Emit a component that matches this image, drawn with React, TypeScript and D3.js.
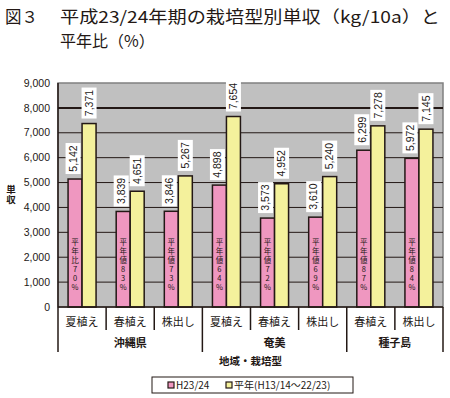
import { useEffect, useRef } from "react";
import * as d3 from "d3";

const categories = ["夏植え", "春植え", "株出し", "夏植え", "春植え", "株出し", "春植え", "株出し"];
const groups = [
  { name: "沖縄県", start: 0, end: 3 },
  { name: "奄美", start: 3, end: 6 },
  { name: "種子島", start: 6, end: 8 },
];
const current = [5142, 3839, 3846, 4898, 3573, 3610, 6299, 5972];
const normal = [7371, 4651, 5267, 7654, 4952, 5240, 7278, 7145];
const ratio = [70, 83, 73, 64, 72, 69, 87, 84];
const ratioLabel = ["平年比", "平年値", "平年値", "平年値", "平年値", "平年値", "平年値", "平年値"];
const yTicks = [0, 1000, 2000, 3000, 4000, 5000, 6000, 7000, 8000, 9000];
const seriesNames = ["H23/24", "平年(H13/14～22/23)"];

const PINK = "#ef97c0";
const YELLOW = "#f4f19c";
const DARK = "#231815";
const FONT = "'Noto Sans CJK JP', 'Noto Sans', Arial, sans-serif";
const NUMFONT = "'Liberation Sans', Arial, sans-serif";

export default function App() {
  const ref = useRef<SVGSVGElement>(null);

  useEffect(() => {
    const width = 450;
    const height = 398;
    const svg = d3.select(ref.current).attr("width", width).attr("height", height);
    svg.selectAll("*").remove();

    const left = 58, right = 443, top = 83, bottom = 307;

    const x = d3.scaleBand<number>()
      .domain(d3.range(categories.length))
      .range([left, right]);
    const y = d3.scaleLinear().domain([0, 9000]).range([bottom, top]);
    const barW = 14;

    // title
    svg.append("text").attr("x", 5).attr("y", 23)
      .attr("font-family", FONT).attr("font-size", 16.5).attr("fill", DARK)
      .text("図３");
    svg.append("text").attr("x", 60).attr("y", 23)
      .attr("font-family", FONT).attr("font-size", 16.5).attr("fill", DARK)
      .attr("textLength", 380).attr("lengthAdjust", "spacingAndGlyphs")
      .text("平成23/24年期の栽培型別単収（kg/10a）と");
    svg.append("text").attr("x", 60).attr("y", 47)
      .attr("font-family", FONT).attr("font-size", 16).attr("fill", DARK)
      .text("平年比（%）");

    // plot background
    svg.append("rect").attr("x", left).attr("y", top)
      .attr("width", right - left).attr("height", bottom - top)
      .attr("fill", "#c0c0c0").attr("stroke", "#808080").attr("stroke-width", 1.5);

    // grid
    svg.append("g").selectAll("line").data(yTicks.filter(d => d > 0 && d < 9000)).join("line")
      .attr("x1", left).attr("x2", right)
      .attr("y1", d => y(d)).attr("y2", d => y(d))
      .attr("stroke", DARK).attr("stroke-width", d => d === 8000 ? 2 : 1);

    // y tick labels
    svg.append("g").selectAll("text").data(yTicks).join("text")
      .attr("x", 50).attr("y", d => y(d)).attr("dy", "0.35em")
      .attr("text-anchor", "end").attr("font-family", NUMFONT).attr("font-size", 10.5)
      .attr("fill", DARK)
      .text(d => d3.format(",")(d));

    // y axis label (vertical)
    svg.append("text").attr("x", 11).attr("y", 185)
      .attr("font-family", FONT).attr("font-size", 9.5).attr("font-weight", "bold")
      .attr("fill", DARK)
      .style("writing-mode", "vertical-rl").style("text-orientation", "upright")
      .text("単収");

    const cx = (i: number) => (x(i) as number) + x.bandwidth() / 2;

    // bars
    const bars = svg.append("g");
    bars.selectAll("rect.cur").data(current).join("rect")
      .attr("class", "cur")
      .attr("x", (_, i) => cx(i) - barW).attr("width", barW)
      .attr("y", d => y(d)).attr("height", d => bottom - y(d))
      .attr("fill", PINK).attr("stroke", DARK).attr("stroke-width", 1.5);
    bars.selectAll("rect.nor").data(normal).join("rect")
      .attr("class", "nor")
      .attr("x", (_, i) => cx(i)).attr("width", barW)
      .attr("y", d => y(d)).attr("height", d => bottom - y(d))
      .attr("fill", YELLOW).attr("stroke", DARK).attr("stroke-width", 1.5);

    // axis lines
    svg.append("line").attr("x1", left).attr("x2", right).attr("y1", bottom).attr("y2", bottom)
      .attr("stroke", DARK).attr("stroke-width", 1.5);
    svg.append("line").attr("x1", left).attr("x2", left).attr("y1", top).attr("y2", 352)
      .attr("stroke", DARK).attr("stroke-width", 1.5);

    // value labels
    const addValueLabel = (value: number, bx: number) => {
      const g = svg.append("g")
        .attr("transform", `translate(${bx},${y(value) - 5}) rotate(-90)`);
      const str = d3.format(",")(value);
      g.append("rect").attr("x", 0).attr("y", -7.5).attr("width", 31).attr("height", 15)
        .attr("fill", "#fff");
      g.append("text").attr("x", 15.5).attr("y", 0).attr("dy", "0.35em")
        .attr("text-anchor", "middle").attr("font-family", NUMFONT).attr("font-size", 10.5)
        .attr("fill", DARK).text(str);
    };
    current.forEach((v, i) => addValueLabel(v, cx(i) - barW / 2 - 2));
    normal.forEach((v, i) => addValueLabel(v, cx(i) + barW / 2));

    // inner ratio text, written vertically
    ratio.forEach((r, i) => {
      svg.append("text").attr("x", cx(i) - barW / 2).attr("y", 238)
        .attr("font-family", FONT).attr("font-size", 7.5).attr("fill", DARK)
        .attr("letter-spacing", 1.6)
        .style("writing-mode", "vertical-rl").style("text-orientation", "upright")
        .text(`${ratioLabel[i]}${r}%`);
    });

    // category separators
    const groupEdges = new Set<number>();
    groups.forEach(g => { groupEdges.add(g.start); groupEdges.add(g.end); });
    d3.range(1, categories.length + 1).forEach(i => {
      const xx = i === categories.length ? right : (x(i) as number);
      svg.append("line").attr("x1", xx).attr("x2", xx)
        .attr("y1", bottom).attr("y2", groupEdges.has(i) ? 352 : 330)
        .attr("stroke", DARK).attr("stroke-width", 1.5);
    });

    // category labels
    svg.append("g").selectAll("text").data(categories).join("text")
      .attr("x", (_, i) => cx(i)).attr("y", 322).attr("dy", "0.35em")
      .attr("text-anchor", "middle").attr("font-family", FONT).attr("font-size", 11)
      .attr("fill", DARK).text(d => d);

    svg.append("g").selectAll("text").data(groups).join("text")
      .attr("x", d => ((x(d.start) as number) + (d.end === categories.length ? right : (x(d.end) as number))) / 2)
      .attr("y", 343).attr("dy", "0.35em")
      .attr("text-anchor", "middle").attr("font-family", FONT).attr("font-size", 11)
      .attr("font-weight", "bold").attr("fill", DARK).text(d => d.name);

    svg.append("text").attr("x", (left + right) / 2).attr("y", 361).attr("dy", "0.35em")
      .attr("text-anchor", "middle").attr("font-family", FONT).attr("font-size", 10.5)
      .attr("font-weight", "bold").attr("fill", DARK).text("地域・栽培型");

    // legend
    const lg = svg.append("g");
    lg.append("rect").attr("x", 152).attr("y", 377).attr("width", 201).attr("height", 16)
      .attr("fill", "#fff").attr("stroke", DARK).attr("stroke-width", 1);
    const legendX = [168, 226];
    const colors = [PINK, YELLOW];
    seriesNames.forEach((n, i) => {
      lg.append("rect").attr("x", legendX[i]).attr("y", 382).attr("width", 6).attr("height", 6)
        .attr("fill", colors[i]).attr("stroke", DARK).attr("stroke-width", 1.2);
      lg.append("text").attr("x", legendX[i] + 8).attr("y", 385).attr("dy", "0.35em")
        .attr("font-family", FONT).attr("font-size", 10).attr("fill", DARK).text(n);
    });
  }, []);

  return <svg ref={ref} style={{ position: "absolute", left: 0, top: 0, background: "#fff" }}></svg>;
}
